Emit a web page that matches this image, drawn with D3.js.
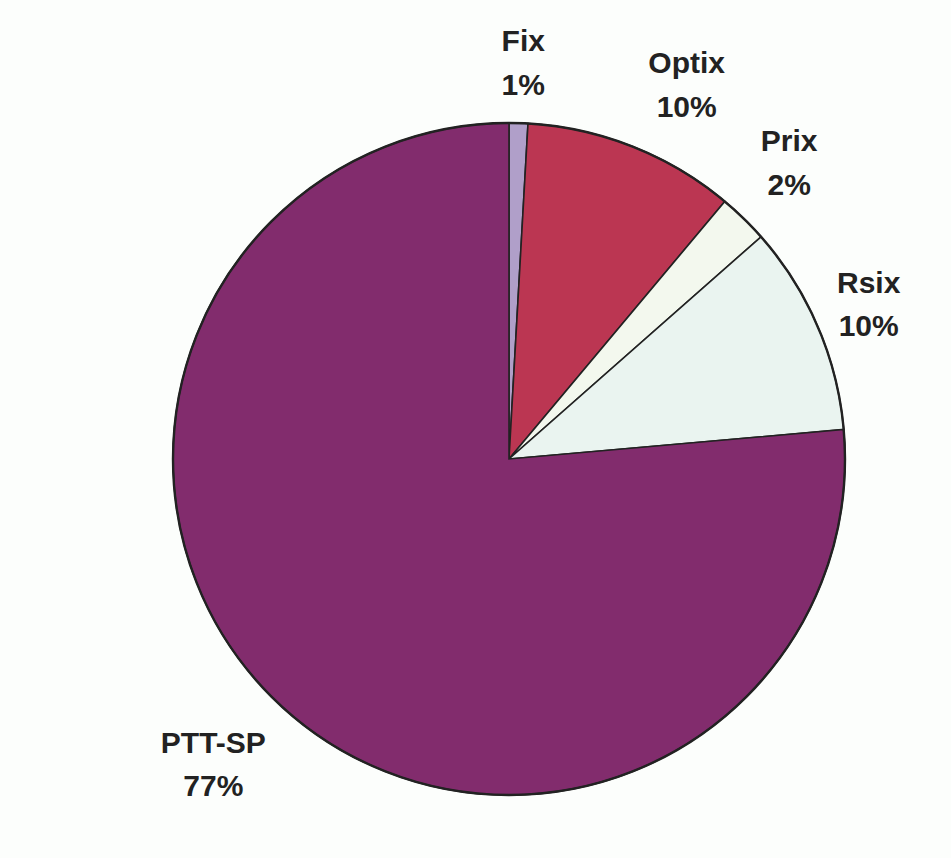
<!DOCTYPE html>
<html>
<head>
<meta charset="utf-8">
<script src="https://cdn.jsdelivr.net/npm/d3@7"></script>
<style>
  html, body { margin: 0; padding: 0; background: #fcfefc; }
  svg { display: block; }
  .label { font-family: "Liberation Sans", Arial, sans-serif; font-weight: bold; font-size: 30px; fill: #222; }
</style>
</head>
<body>
<div id="chart"></div>
<script>
const categories = ["Fix", "Optix", "Prix", "Rsix", "PTT-SP"];
const values = [0.9, 10.2, 2.4, 10.1, 76.4];
const pctLabels = ["1%", "10%", "2%", "10%", "77%"];
const colors = ["#b09fc9", "#bb3652", "#f3f8ee", "#eaf4f0", "#822c6d"];

// label placement (radius from centre, angle nudge in degrees), like Excel's "best fit"
const labelRadius = [405, 422, 414, 395, 419];
const labelNudge = [0.4, 3.3, -1.7, -1.2, 2.4];

document.addEventListener("DOMContentLoaded", function () {
  const w = 951;
  const h = 858;
  const cx = 509;
  const cy = 459;
  const r = 336;

  const data = categories.map((c, i) => ({
    name: c,
    value: values[i],
    pct: pctLabels[i],
    color: colors[i],
    lr: labelRadius[i],
    nudge: labelNudge[i],
  }));

  const svg = d3
    .select("#chart")
    .append("svg")
    .attr("width", w)
    .attr("height", h);

  svg.append("rect").attr("width", w).attr("height", h).attr("fill", "#fcfefc");

  const g = svg.append("g").attr("transform", `translate(${cx},${cy})`);

  const pie = d3.pie().value((d) => d.value).sort(null);
  const arc = d3.arc().innerRadius(0).outerRadius(r);

  const arcs = pie(data);

  g.selectAll("path")
    .data(arcs)
    .enter()
    .append("path")
    .attr("d", arc)
    .attr("fill", (d) => d.data.color)
    .attr("stroke", "#222")
    .attr("stroke-width", 1.6)
    .attr("stroke-linejoin", "miter");

  // outer rim a bit heavier
  g.append("circle")
    .attr("r", r)
    .attr("fill", "none")
    .attr("stroke", "#222")
    .attr("stroke-width", 2.4);

  const labels = g
    .selectAll("text.label")
    .data(arcs)
    .enter()
    .append("text")
    .attr("class", "label")
    .attr("text-anchor", "middle")
    .attr("transform", (d) => {
      const a = (d.startAngle + d.endAngle) / 2 + (d.data.nudge * Math.PI) / 180;
      const x = Math.sin(a) * d.data.lr;
      const y = -Math.cos(a) * d.data.lr;
      return `translate(${x},${y})`;
    });

  labels.append("tspan").attr("x", 0).attr("dy", "-0.1em").text((d) => d.data.name);
  labels.append("tspan").attr("x", 0).attr("dy", "1.45em").text((d) => d.data.pct);
});
</script>
</body>
</html>
